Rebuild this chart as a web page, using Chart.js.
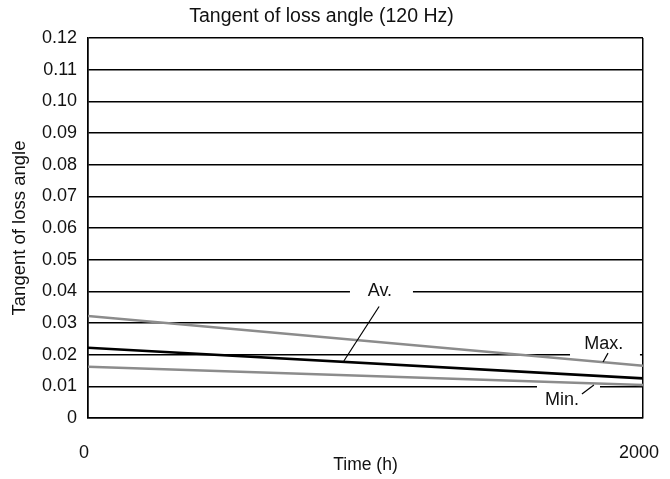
<!DOCTYPE html>
<html>
<head>
<meta charset="utf-8">
<script src="https://cdn.jsdelivr.net/npm/chart.js@4/dist/chart.umd.min.js"></script>
<style>
  html, body { margin: 0; padding: 0; background: #fff; }
  #wrap { width: 670px; height: 479px; }
</style>
</head>
<body>
<div id="wrap"><canvas id="chart"></canvas></div>
<script>
// data
const hours = [0, 2000];
const maxValues = [0.0322, 0.0165];
const avValues = [0.0222, 0.0125];
const minValues = [0.0162, 0.0104];
const xTickValues = [0, 2000];
const seriesNames = ['Max.', 'Av.', 'Min.'];

const FONT = "'Liberation Sans', Arial, sans-serif";

function toPoints(vals) {
    return hours.map((h, i) => ({ x: h, y: vals[i] }));
}

// label placement, in data units (x in hours, y in tangent)
const notes = [
    { text: 'Av.', x: 1052, y: 0.0400, from: [1049, 0.0352], to: [922, 0.0180], gap: [944, 1171, 0.04] },
    { text: 'Max.', x: 1859, y: 0.0234, from: [1874, 0.0205], to: [1856, 0.0177], gap: [1737, 1989, 0.02] },
    { text: 'Min.', x: 1708, y: 0.0057, from: [1823, 0.0104], to: [1780, 0.0076], gap: [1618, 1845, 0.01] }
];

const notesPlugin = {
    id: 'notes',
    beforeDatasetsDraw(chart) {
        const { ctx, scales: { x, y } } = chart;
        ctx.save();
        ctx.fillStyle = '#fff';
        notes.forEach(n => {
            const x1 = x.getPixelForValue(n.gap[0]);
            const x2 = x.getPixelForValue(n.gap[1]);
            const yy = y.getPixelForValue(n.gap[2]);
            ctx.fillRect(x1, yy - 3, x2 - x1, 6);
        });
        ctx.restore();
    },
    afterDatasetsDraw(chart) {
        const { ctx, scales: { x, y } } = chart;
        ctx.save();
        ctx.font = '18px ' + FONT;
        ctx.fillStyle = '#111';
        ctx.textAlign = 'center';
        ctx.textBaseline = 'middle';
        ctx.strokeStyle = '#000';
        ctx.lineWidth = 1.2;
        notes.forEach(n => {
            ctx.fillText(n.text, x.getPixelForValue(n.x), y.getPixelForValue(n.y));
            ctx.beginPath();
            ctx.moveTo(x.getPixelForValue(n.from[0]), y.getPixelForValue(n.from[1]));
            ctx.lineTo(x.getPixelForValue(n.to[0]), y.getPixelForValue(n.to[1]));
            ctx.stroke();
        });
        ctx.restore();
    }
};

const ctx = document.getElementById('chart').getContext('2d');
const chart = new Chart(ctx, {
    type: 'line',
    data: {
        datasets: [
            { label: seriesNames[0], data: toPoints(maxValues), borderColor: '#8c8c8c', borderWidth: 2.6, pointRadius: 0 },
            { label: seriesNames[1], data: toPoints(avValues), borderColor: '#000', borderWidth: 2.6, pointRadius: 0 },
            { label: seriesNames[2], data: toPoints(minValues), borderColor: '#8c8c8c', borderWidth: 2.6, pointRadius: 0 }
        ]
    },
    options: {
        responsive: true,
        maintainAspectRatio: false,
        animation: false,
        devicePixelRatio: 1,
        layout: { padding: { left: 0, right: 27, top: 0, bottom: 0 } },
        plugins: {
            legend: { display: false },
            tooltip: { enabled: false },
            title: {
                display: true,
                text: 'Tangent of loss angle (120 Hz)',
                color: '#111',
                font: { family: FONT, size: 19.5, weight: 'normal', lineHeight: 1.2 },
                padding: { top: 5.3, bottom: 9.3 }
            }
        },
        scales: {
            x: {
                type: 'linear',
                min: 0,
                max: 2000,
                afterBuildTicks: scale => { scale.ticks = xTickValues.map(v => ({ value: v })); },
                afterFit: scale => {
                    scale.height = 61;
                    scale.paddingLeft = 0;
                    scale.paddingRight = 0;
                },
                grid: { color: '#000', lineWidth: 1.5, drawTicks: false },
                border: { color: '#000', width: 1.5 },
                ticks: {
                    color: '#111',
                    padding: 24,
                    labelOffset: -4,
                    font: { family: FONT, size: 18 },
                    callback: v => String(v)
                },
                title: {
                    display: true,
                    text: 'Time (h)',
                    color: '#111',
                    font: { family: FONT, size: 17.5 },
                    padding: { top: 0, bottom: 3 }
                }
            },
            y: {
                min: 0,
                max: 0.12,
                afterBuildTicks: scale => {
                    const t = [];
                    for (let i = 0; i <= 12; i++) t.push({ value: i / 100 });
                    scale.ticks = t;
                },
                afterFit: scale => { scale.width = 88; },
                grid: { color: '#000', lineWidth: 1.5, drawTicks: false },
                border: { color: '#000', width: 1.5 },
                ticks: {
                    color: '#111',
                    padding: 11,
                    font: { family: FONT, size: 18 },
                    callback: v => v === 0 ? '0' : v.toFixed(2)
                },
                title: {
                    display: true,
                    text: 'Tangent of loss angle',
                    color: '#111',
                    font: { family: FONT, size: 18.5 },
                    padding: 9
                }
            }
        }
    },
    plugins: [notesPlugin]
});
</script>
</body>
</html>
